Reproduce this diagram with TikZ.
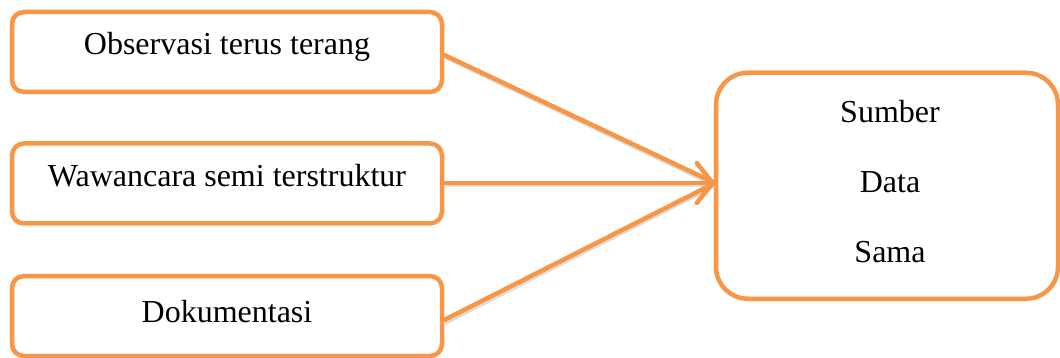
\documentclass[tikz,border=0pt]{standalone}
\usepackage{fontspec}
\setmainfont{Liberation Serif}
\usetikzlibrary{arrows.meta}
\definecolor{boxorange}{HTML}{F79646}
\tikzset{
  srcbox/.style={draw=boxorange, line width=4.5pt, rounded corners=12pt, fill=white,
    minimum width=430pt, minimum height=80pt, inner sep=0pt},
  bigbox/.style={draw=boxorange, line width=4.5pt, rounded corners=32pt, fill=white,
    minimum width=342pt, minimum height=226pt, inner sep=0pt},
  lbl/.style={anchor=base, inner sep=0pt, font=\fontsize{32}{38}\selectfont},
  conn/.style={draw=boxorange, line width=4.5pt, line cap=round},
  connshadow/.style={draw=black!22, line width=3pt, line cap=round, opacity=0.6},
  tiparrow/.style={-{Straight Barb[length=16pt, width=40pt, line cap=round, line join=round]}}
}
\begin{document}
\begin{tikzpicture}[x=1pt, y=-1pt]
\useasboundingbox (0,0) rectangle (1060,358);
% boxes
\node[srcbox] (b1) at (227,52) {};
\node[srcbox] (b2) at (227,183.5) {};
\node[srcbox] (b3) at (227,316) {};
\node[bigbox] (rb) at (887,185.75) {};
% texts
\node[lbl] (t1) at (227,55) {Observasi terus terang};
\node[lbl] (t2) at (227,187) {Wawancara semi terstruktur};
\node[lbl] (t3) at (227,322) {Dokumentasi};
\node[lbl] (r1) at (890,123) {Sumber};
\node[lbl] (r2) at (890,193) {Data};
\node[lbl] (r3) at (890,262) {Sama};
% connector points
\coordinate (tip) at (715,183);
\coordinate (s1) at (b1.east |- 0,55);
\coordinate (s2) at (b2.east |- 0,183);
\coordinate (s3) at (b3.east |- 0,320);
% shadows
\draw[connshadow] ([shift={(2,3)}]s1) -- ([shift={(0,3)}]tip);
\draw[connshadow] ([shift={(2,3)}]s2) -- ([shift={(-8,3)}]tip);
\draw[connshadow] ([shift={(2,3)}]s3) -- ([shift={(0,3)}]tip);
% connectors
\draw[conn] (s1) -- (tip);
\draw[conn] (s3) -- (tip);
\draw[conn, tiparrow] (s2) -- (tip);
\end{tikzpicture}
\end{document}
